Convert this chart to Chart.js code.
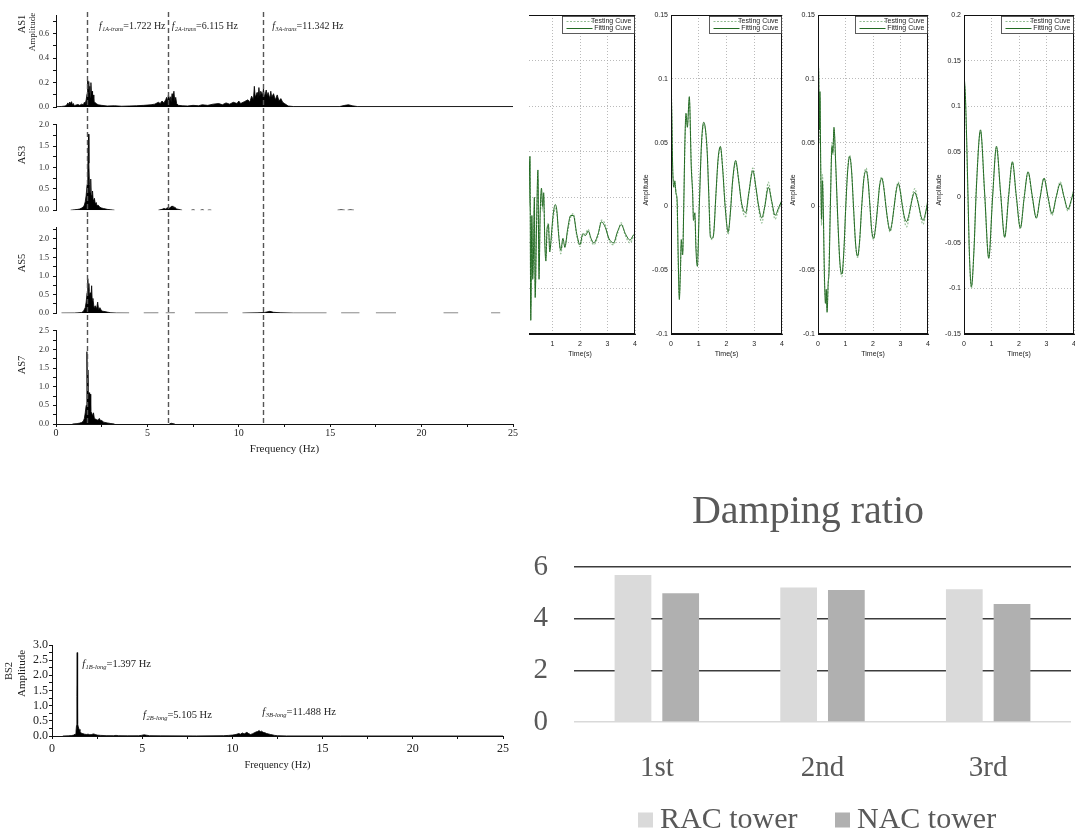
<!DOCTYPE html>
<html lang="en">
<head>
<meta charset="utf-8">
<title>Tower modal identification</title>
<script src="https://cdn.jsdelivr.net/npm/chart.js@4.4.1/dist/chart.umd.min.js"></script>
<style>
  html, body { margin: 0; padding: 0; background: #fff; }
  body { position: relative; width: 1075px; height: 833px; overflow: hidden; }
  .pane { position: absolute; overflow: hidden; }
  canvas { position: absolute; display: block; }
</style>
</head>
<body>
<!-- acceleration spectra, A-tower -->
<canvas id="as1" width="525" height="116" style="left:0;top:0"></canvas>
<canvas id="as3" width="525" height="103" style="left:0;top:116px"></canvas>
<canvas id="as5" width="525" height="103" style="left:0;top:219px"></canvas>
<canvas id="as7" width="525" height="138" style="left:0;top:322px"></canvas>
<!-- free-decay responses -->
<div class="pane" style="left:529px;top:0;width:111px;height:362px">
  <canvas id="r1" width="156" height="362" style="left:-40px;top:0"></canvas>
</div>
<canvas id="r2" width="152" height="362" style="left:638px;top:0"></canvas>
<canvas id="r3" width="151" height="362" style="left:785px;top:0"></canvas>
<canvas id="r4" width="151" height="362" style="left:931px;top:0"></canvas>
<!-- B-tower spectrum -->
<canvas id="bs2" width="520" height="150" style="left:0;top:630px"></canvas>
<!-- damping ratios -->
<canvas id="damp" width="555" height="343" style="left:520px;top:490px"></canvas>

<script>
// ---------------- data ----------------
// spectra: [frequency (Hz), amplitude]; null breaks the trace
const as1Spectrum = [
  [0,0.003],[0.3,0.006],[0.5,0.01],[0.6,0.02],[0.65,0.035],[0.7,0.02],[0.75,0.042],[0.8,0.03],[0.85,0.045],[0.9,0.02],
  [0.95,0.03],[1.0,0.012],[1.1,0.018],[1.2,0.022],[1.3,0.015],[1.4,0.025],[1.5,0.02],[1.55,0.04],[1.6,0.03],[1.65,0.06],
  [1.7,0.11],[1.73,0.22],[1.76,0.14],[1.79,0.21],[1.82,0.12],[1.85,0.17],[1.88,0.08],[1.91,0.2],[1.94,0.1],[1.97,0.13],
  [2.0,0.07],[2.03,0.1],[2.07,0.05],[2.12,0.04],[2.2,0.03],[2.3,0.02],[2.5,0.015],[2.8,0.01],[3.2,0.012],[3.6,0.008],
  [4.0,0.01],[4.4,0.012],[4.8,0.015],[5.2,0.02],[5.4,0.025],[5.6,0.04],[5.7,0.03],[5.8,0.05],[5.9,0.035],[6.0,0.06],
  [6.05,0.08],[6.1,0.05],[6.15,0.1],[6.2,0.06],[6.25,0.085],[6.3,0.045],[6.35,0.11],[6.4,0.07],[6.45,0.13],[6.5,0.05],
  [6.55,0.08],[6.6,0.03],[6.7,0.015],[6.9,0.012],[7.2,0.01],[7.5,0.015],[7.8,0.012],[8.0,0.02],[8.3,0.015],[8.6,0.025],
  [8.9,0.03],[9.1,0.02],[9.3,0.035],[9.5,0.025],[9.7,0.04],[9.9,0.03],[10.0,0.05],[10.1,0.03],[10.3,0.045],[10.5,0.06],
  [10.6,0.04],[10.7,0.09],[10.8,0.06],[10.85,0.17],[10.9,0.08],[11.0,0.12],[11.05,0.07],[11.1,0.16],[11.15,0.09],[11.2,0.13],
  [11.3,0.1],[11.35,0.15],[11.4,0.08],[11.5,0.14],[11.55,0.09],[11.6,0.12],[11.7,0.07],[11.75,0.13],[11.8,0.08],[11.9,0.11],
  [12.0,0.06],[12.1,0.1],[12.2,0.05],[12.3,0.07],[12.4,0.04],[12.5,0.03],[12.7,0.01],[13.0,0.005],[15.5,0.005],[15.8,0.015],
  [16.0,0.02],[16.2,0.012],[16.5,0.005],[25,0.005]
];
const as3Spectrum = [
  [0.8,0],[1.0,0.01],[1.2,0.02],[1.3,0.03],[1.4,0.05],[1.5,0.08],[1.55,0.12],[1.6,0.2],[1.65,0.35],[1.7,0.6],
  [1.74,1.0],[1.78,1.78],[1.8,1.1],[1.83,0.6],[1.86,0.4],[1.9,0.73],[1.93,0.35],[1.96,0.3],[2.0,0.45],[2.03,0.25],
  [2.07,0.2],[2.1,0.28],[2.15,0.15],[2.2,0.18],[2.25,0.1],[2.3,0.12],[2.4,0.07],[2.5,0.05],[2.6,0.04],[2.8,0.02],
  [3.0,0.01],[3.2,0],[3.25,null],[5.6,0],[5.8,0.02],[5.9,0.04],[6.0,0.03],[6.1,0.06],[6.2,0.05],[6.3,0.08],
  [6.35,0.1],[6.4,0.06],[6.5,0.07],[6.6,0.03],[6.8,0.01],[6.9,0],[7.0,null],[7.4,0],[7.5,0.008],[7.6,0],
  [7.65,null],[7.9,0],[8.0,0.01],[8.1,0],[8.15,null],[8.3,0],[8.4,0.006],[8.5,0],[8.55,null],[15.4,0],
  [15.6,0.01],[15.8,0],[15.85,null],[15.95,0],[16.1,0.008],[16.3,0]
];
const as5Spectrum = [
  [0.3,0.003],[1.0,0.005],[1.2,0.01],[1.4,0.02],[1.5,0.05],[1.6,0.15],[1.65,0.3],[1.7,0.55],[1.74,0.93],[1.77,0.6],
  [1.8,0.8],[1.83,0.45],[1.87,0.55],[1.9,0.3],[1.95,0.74],[1.98,0.35],[2.02,0.4],[2.08,0.15],[2.15,0.2],[2.22,0.12],
  [2.28,0.3],[2.33,0.1],[2.4,0.15],[2.5,0.06],[2.6,0.05],[2.8,0.03],[3.0,0.012],[3.3,0.005],[4.0,0.003],[4.05,null],
  [4.8,0.003],[5.6,0.004],[5.65,null],[6.0,0.003],[6.5,0.006],[6.55,null],[7.6,0.003],[9.4,0.004],[9.45,null],[10.2,0.003],
  [11.0,0.01],[11.4,0.02],[11.7,0.05],[11.9,0.025],[12.3,0.01],[13.0,0.003],[14.8,0.003],[14.85,null],[15.6,0.003],[16.6,0.003],
  [16.65,null],[17.5,0.003],[18.6,0.003],[18.65,null],[21.2,0.003],[22.0,0.003],[22.05,null],[23.8,0.003],[24.3,0.003]
];
const as7Spectrum = [
  [0.9,0],[1.1,0.01],[1.2,0.015],[1.3,0.025],[1.4,0.04],[1.5,0.08],[1.55,0.15],[1.6,0.3],[1.65,0.5],[1.69,1.94],
  [1.72,1.0],[1.75,1.45],[1.78,0.6],[1.81,0.84],[1.84,0.45],[1.87,0.8],[1.9,0.35],[1.95,0.3],[2.0,0.22],[2.05,0.3],
  [2.1,0.15],[2.2,0.12],[2.3,0.1],[2.37,0.15],[2.45,0.08],[2.5,0.1],[2.6,0.05],[2.8,0.03],[3.0,0.012],[3.2,0],
  [3.25,null],[6.2,0],[6.3,0.02],[6.4,0.01],[6.5,0]
];
const bs2Spectrum = [
  [0.6,0],[0.9,0.005],[1.1,0.015],[1.2,0.03],[1.28,0.06],[1.33,0.15],[1.36,0.35],[1.38,1.3],[1.397,2.75],[1.41,1.1],
  [1.43,0.4],[1.46,0.3],[1.5,0.22],[1.55,0.15],[1.6,0.1],[1.7,0.08],[1.8,0.06],[1.9,0.05],[2.0,0.06],[2.1,0.04],
  [2.2,0.05],[2.3,0.07],[2.4,0.05],[2.5,0.03],[2.7,0.02],[3.0,0.012],[3.4,0.01],[3.55,0.02],[3.7,0.01],[4.2,0.006],
  [4.8,0.008],[4.95,0.02],[5.105,0.04],[5.25,0.025],[5.4,0.01],[6.0,0.005],[8.0,0.004],[9.5,0.01],[9.8,0.02],[10.0,0.03],
  [10.2,0.05],[10.35,0.08],[10.45,0.06],[10.55,0.1],[10.65,0.07],[10.8,0.12],[10.9,0.08],[11.0,0.05],[11.1,0.07],[11.2,0.1],
  [11.3,0.13],[11.4,0.15],[11.488,0.18],[11.55,0.14],[11.62,0.16],[11.7,0.12],[11.8,0.11],[11.9,0.08],[12.0,0.07],[12.1,0.05],
  [12.2,0.04],[12.35,0.02],[12.5,0.01],[13.0,0.003],[16,0.002],[25,0]
];

// identified modal frequencies
const modeFreqA = [1.722, 6.115, 11.342];
const modeSubA  = ['1A-trans', '2A-trans', '3A-trans'];
const modeFreqB = [1.397, 5.105, 11.488];
const modeSubB  = ['1B-long', '2B-long', '3B-long'];

// free-decay records: [time (s), fitting curve, testing curve]
const decay1 = [
  [0,0.0,0.005],[0.08,0.03,0.025],[0.13,-0.01,-0.015],[0.18,0.045,0.04],[0.21,-0.135,-0.12],[0.25,-0.02,-0.03],
  [0.28,-0.09,-0.085],[0.31,-0.06,-0.065],[0.34,0.0,-0.01],[0.37,-0.11,-0.1],[0.42,-0.03,-0.035],[0.47,0.03,0.02],
  [0.51,-0.09,-0.08],[0.55,-0.02,-0.025],[0.6,0.01,0.005],[0.64,-0.01,-0.015],[0.68,0.005,0.0],[0.72,-0.05,-0.045],
  [0.76,-0.07,-0.065],[0.8,-0.035,-0.04],[0.85,-0.03,-0.028],[0.9,-0.06,-0.055],[0.95,-0.045,-0.05],[1.02,-0.02,-0.025],
  [1.1,-0.008,-0.012],[1.16,-0.015,-0.018],[1.22,-0.04,-0.038],[1.3,-0.058,-0.062],[1.38,-0.045,-0.05],[1.45,-0.055,-0.052],
  [1.55,-0.035,-0.038],[1.66,-0.02,-0.022],[1.76,-0.02,-0.018],[1.88,-0.04,-0.042],[2.0,-0.052,-0.054],[2.1,-0.04,-0.042],
  [2.2,-0.042,-0.04],[2.3,-0.037,-0.035],[2.4,-0.045,-0.047],[2.5,-0.05,-0.052],[2.66,-0.04,-0.042],[2.78,-0.027,-0.025],
  [2.92,-0.033,-0.03],[3.05,-0.045,-0.047],[3.22,-0.05,-0.052],[3.36,-0.038,-0.04],[3.5,-0.03,-0.028],[3.65,-0.04,-0.042],
  [3.82,-0.047,-0.05],[3.93,-0.042,-0.044],[4.0,-0.04,-0.038]
];
const decay2 = [
  [0,0.1,0.098],[0.03,0.07,0.075],[0.06,0.031,0.028],[0.1,0.015,0.02],[0.14,0.02,0.016],[0.18,0.01,0.012],
  [0.22,0.005,0.0],[0.26,-0.04,-0.045],[0.3,-0.073,-0.07],[0.34,-0.05,-0.052],[0.37,-0.026,-0.03],[0.42,-0.038,-0.035],
  [0.46,0.0,0.003],[0.5,0.05,0.045],[0.54,0.073,0.07],[0.59,0.062,0.064],[0.66,0.086,0.083],[0.73,0.031,0.035],
  [0.78,0.01,0.012],[0.81,-0.011,-0.008],[0.86,-0.005,-0.009],[0.9,-0.034,-0.03],[0.95,-0.047,-0.04],[1.02,0.0,0.004],
  [1.1,0.05,0.048],[1.18,0.066,0.064],[1.3,0.044,0.046],[1.36,0.01,0.012],[1.42,-0.024,-0.022],[1.48,-0.025,-0.026],
  [1.54,-0.021,-0.02],[1.62,0.01,0.009],[1.7,0.038,0.036],[1.78,0.047,0.046],[1.86,0.03,0.031],[1.95,0.0,0.002],
  [2.06,-0.02,-0.022],[2.14,-0.005,-0.004],[2.22,0.02,0.019],[2.33,0.036,0.034],[2.44,0.02,0.021],[2.55,0.002,0.0],
  [2.69,-0.005,-0.008],[2.8,0.01,0.009],[2.95,0.028,0.03],[3.06,0.015,0.014],[3.16,0.0,-0.002],[3.27,-0.009,-0.013],
  [3.38,0.0,0.0],[3.51,0.015,0.019],[3.63,0.004,0.003],[3.75,-0.007,-0.01],[3.88,-0.001,-0.002],[4.0,0.005,0.004]
];
const decay3 = [
  [0,0.1,0.095],[0.02,0.108,0.11],[0.05,0.06,0.05],[0.07,0.09,0.085],[0.1,0.03,0.025],[0.13,-0.01,-0.015],
  [0.16,0.02,0.025],[0.19,0.0,0.005],[0.23,-0.05,-0.055],[0.27,-0.076,-0.07],[0.3,-0.065,-0.07],[0.33,-0.083,-0.08],
  [0.37,-0.06,-0.062],[0.4,-0.052,-0.045],[0.45,0.0,0.005],[0.51,0.047,0.05],[0.54,0.042,0.04],[0.58,0.062,0.06],
  [0.65,0.03,0.028],[0.72,-0.01,-0.012],[0.8,-0.045,-0.046],[0.87,-0.053,-0.055],[0.94,-0.035,-0.036],[1.01,0.0,0.0],
  [1.08,0.028,0.03],[1.15,0.039,0.04],[1.22,0.028,0.029],[1.29,0.0,0.0],[1.37,-0.03,-0.031],[1.44,-0.039,-0.04],
  [1.51,-0.028,-0.029],[1.59,0.0,0.0],[1.67,0.022,0.023],[1.75,0.028,0.03],[1.82,0.02,0.021],[1.89,0.0,0.0],
  [1.95,-0.018,-0.019],[2.02,-0.025,-0.026],[2.09,-0.017,-0.018],[2.17,0.0,0.0],[2.24,0.016,0.017],[2.32,0.022,0.023],
  [2.39,0.015,0.016],[2.47,0.0,0.0],[2.55,-0.013,-0.014],[2.62,-0.019,-0.02],[2.69,-0.013,-0.014],[2.77,0.0,0.0],
  [2.85,0.013,0.014],[2.92,0.018,0.019],[2.99,0.012,0.013],[3.07,0.0,0.0],[3.15,-0.009,-0.012],[3.22,-0.012,-0.016],
  [3.29,-0.008,-0.011],[3.37,0.0,0.0],[3.45,0.008,0.01],[3.52,0.011,0.014],[3.59,0.007,0.009],[3.67,0.0,0.0],
  [3.75,-0.008,-0.01],[3.82,-0.011,-0.014],[3.9,-0.006,-0.008],[4.0,0.005,0.006]
];
const decay4 = [
  [0,0.135,0.13],[0.05,0.112,0.108],[0.1,0.06,0.055],[0.15,-0.005,-0.01],[0.2,-0.065,-0.068],[0.27,-0.098,-0.1],
  [0.36,-0.06,-0.058],[0.45,0.01,0.013],[0.6,0.074,0.072],[0.75,0.005,0.003],[0.9,-0.067,-0.066],[1.04,0.0,0.002],
  [1.18,0.056,0.054],[1.33,0.005,0.004],[1.48,-0.044,-0.043],[1.62,0.0,0.002],[1.76,0.039,0.038],[1.9,0.002,0.0],
  [2.05,-0.034,-0.033],[2.19,0.0,0.001],[2.33,0.028,0.027],[2.48,0.002,0.0],[2.63,-0.023,-0.022],[2.77,0.0,0.001],
  [2.91,0.021,0.021],[3.05,0.001,0.0],[3.2,-0.018,-0.02],[3.35,0.0,0.0],[3.5,0.015,0.017],[3.64,0.0,0.0],
  [3.78,-0.013,-0.015],[3.9,-0.003,-0.004],[4.0,0.008,0.01]
];
const curveNames = ['Testing Cuve', 'Fitting Cuve'];

// damping ratio (%)
const dampModes = ['1st', '2nd', '3rd'];
const racDamping = [5.69, 5.21, 5.14];
const nacDamping = [4.98, 5.11, 4.57];
const towerNames = ['RAC tower', 'NAC tower'];

// ---------------- helpers ----------------
const SERIF = '"Liberation Serif", "Times New Roman", serif';
const SANS = '"Liberation Sans", Arial, sans-serif';
const onStep = (v, step) => Math.abs(v / step - Math.round(v / step)) < 1e-6;

// free text placed in canvas coordinates (titles, axis captions)
const textPlugin = {
  id: 'texts',
  afterDraw(chart, args, o) {
    const ctx = chart.ctx;
    (o.items || []).forEach(it => {
      ctx.save();
      ctx.font = it.font;
      ctx.fillStyle = it.color || '#222';
      ctx.textAlign = it.align || 'center';
      ctx.textBaseline = 'middle';
      ctx.translate(it.x, it.y);
      if (it.rot) ctx.rotate(it.rot);
      ctx.fillText(it.text, 0, 0);
      ctx.restore();
    });
  }
};

// dashed verticals at the identified frequencies
const guidePlugin = {
  id: 'guides',
  afterDraw(chart, args, o) {
    if (!o.freqs || !o.freqs.length) return;
    const ctx = chart.ctx, xs = chart.scales.x;
    ctx.save();
    ctx.strokeStyle = '#555';
    ctx.lineWidth = 1.4;
    ctx.setLineDash([5, 3]);
    o.freqs.forEach(f => {
      const x = Math.round(xs.getPixelForValue(f)) + 0.5;
      ctx.beginPath();
      ctx.moveTo(x, o.top);
      ctx.lineTo(x, o.bottom);
      ctx.stroke();
    });
    ctx.restore();
  }
};

// "f_sub = value Hz" annotations anchored on the frequency axis
const modeLabelPlugin = {
  id: 'modeLabels',
  afterDraw(chart, args, o) {
    if (!o.items || !o.items.length) return;
    const ctx = chart.ctx, xs = chart.scales.x;
    ctx.save();
    ctx.fillStyle = '#222';
    ctx.textAlign = 'left';
    ctx.textBaseline = 'alphabetic';
    o.items.forEach(it => {
      let x = xs.getPixelForValue(it.f) + it.dx;
      ctx.font = `italic ${o.size}px ${SERIF}`;
      ctx.fillText('f', x, it.y);
      x += ctx.measureText('f').width + 0.5;
      ctx.font = `italic ${o.subSize}px ${SERIF}`;
      ctx.fillText(it.sub, x, it.y + o.subDrop);
      x += ctx.measureText(it.sub).width;
      ctx.font = `${o.size}px ${SERIF}`;
      ctx.fillText('=' + it.f.toFixed(3) + ' Hz', x, it.y);
    });
    ctx.restore();
  }
};

// axes box and inset legend of the decay plots
const framePlugin = {
  id: 'frameLegend',
  afterDraw(chart, args, o) {
    const ctx = chart.ctx, a = chart.chartArea;
    ctx.save();
    ctx.setLineDash([]);
    ctx.strokeStyle = '#111';
    ctx.lineWidth = 1;
    ctx.strokeRect(Math.round(a.left) + 0.5, Math.round(a.top) + 0.5,
                   Math.round(a.right - a.left) - 1, Math.round(a.bottom - a.top) - 1);
    const w = o.width, h = o.height;
    const bx = Math.round(a.right) - w - 0.5, by = Math.round(a.top) + 1.5;
    ctx.fillStyle = '#fff';
    ctx.fillRect(bx, by, w, h);
    ctx.strokeStyle = '#333';
    ctx.lineWidth = 0.8;
    ctx.strokeRect(bx, by, w, h);
    ctx.font = `7px ${SANS}`;
    ctx.textBaseline = 'middle';
    ctx.textAlign = 'right';
    chart.data.datasets.forEach((ds, i) => {
      const y = by + 5 + i * 7;
      ctx.strokeStyle = ds.borderColor;
      ctx.lineWidth = ds.borderWidth;
      ctx.setLineDash(ds.borderDash || []);
      ctx.beginPath();
      ctx.moveTo(bx + 4, y);
      ctx.lineTo(bx + 30, y);
      ctx.stroke();
      ctx.setLineDash([]);
      ctx.fillStyle = '#222';
      ctx.fillText(ds.label, bx + w - 3, y);
    });
    ctx.restore();
  }
};

// square-marker legend of the damping chart
const boxLegendPlugin = {
  id: 'boxLegend',
  afterDraw(chart, args, o) {
    const ctx = chart.ctx;
    ctx.save();
    ctx.font = o.font;
    ctx.textAlign = 'left';
    ctx.textBaseline = 'middle';
    chart.data.datasets.forEach((ds, i) => {
      const x = o.xs[i];
      ctx.fillStyle = ds.backgroundColor;
      ctx.fillRect(x, o.y - o.box / 2, o.box, o.box);
      ctx.fillStyle = o.color;
      ctx.fillText(ds.label, x + o.box + o.gap, o.y);
    });
    ctx.restore();
  }
};

function spectrumChart(id, spectrum, o) {
  const x = o.showX ? {
    type: 'linear', min: 0, max: 25,
    afterFit: s => { s.height = o.xH; },
    grid: { display: true, drawOnChartArea: false, drawTicks: true, tickLength: 3, tickColor: '#111', tickWidth: 1 },
    border: { display: true, color: '#111', width: 1 },
    ticks: { stepSize: 2.5, autoSkip: false, includeBounds: false, padding: o.xPad, maxRotation: 0,
             color: '#222', font: { family: SERIF, size: o.xFont },
             callback: v => onStep(v, 5) ? String(v) : '' },
    title: { display: true, text: 'Frequency (Hz)', color: '#222',
             font: { family: SERIF, size: o.xTitleSize }, padding: { top: 0, bottom: o.xTitlePad } }
  } : { type: 'linear', min: 0, max: 25, display: false };

  return new Chart(document.getElementById(id), {
    type: 'line',
    data: {
      datasets: [{
        data: spectrum.map(p => ({ x: p[0], y: p[1] })),
        borderColor: '#000', backgroundColor: '#000', borderWidth: 0.8,
        pointRadius: 0, fill: 'origin', tension: 0, spanGaps: false
      }]
    },
    options: {
      responsive: false, animation: false, events: [],
      layout: { autoPadding: false, padding: o.pad },
      plugins: {
        legend: { display: false }, tooltip: { enabled: false },
        guides: o.guides || {},
        texts: { items: o.texts || [] },
        modeLabels: o.modeLabels || {}
      },
      scales: {
        x,
        y: {
          min: 0, max: o.yMax,
          afterFit: s => { s.width = o.yW; },
          grid: { display: true, drawOnChartArea: false, drawTicks: true, tickLength: 3, tickColor: '#111', tickWidth: 1 },
          border: { display: true, color: '#111', width: 1 },
          ticks: { stepSize: o.minor, autoSkip: false, includeBounds: false, padding: o.yPad,
                   color: '#222', font: { family: SERIF, size: o.yFont },
                   callback: v => onStep(v, o.major) ? v.toFixed(1) : '' }
        }
      }
    },
    plugins: [guidePlugin, textPlugin, modeLabelPlugin]
  });
}

function decayChart(id, rows, o) {
  const gridStyle = { color: '#a8a8a8', lineWidth: 0.8, drawTicks: false };
  const borderStyle = { display: true, color: '#111', width: 1, dash: [1, 2] };
  const tickFont = { family: SANS, size: 7 };
  return new Chart(document.getElementById(id), {
    type: 'line',
    data: {
      datasets: [
        { label: curveNames[0], data: rows.map(r => ({ x: r[0], y: r[2] })),
          borderColor: '#93bd93', borderDash: [2, 1.5], borderWidth: 1.2, pointRadius: 0,
          cubicInterpolationMode: 'monotone', fill: false, order: 1 },
        { label: curveNames[1], data: rows.map(r => ({ x: r[0], y: r[1] })),
          borderColor: '#226a22', borderWidth: 1, pointRadius: 0,
          cubicInterpolationMode: 'monotone', fill: false, order: 0 }
      ]
    },
    options: {
      responsive: false, animation: false, events: [],
      layout: { autoPadding: false, padding: { left: 0, right: o.padR, top: 15, bottom: 0 } },
      plugins: {
        legend: { display: false }, tooltip: { enabled: false },
        frameLegend: { width: 72, height: 17 },
        texts: { items: [{ text: 'Amplitude', x: 8, y: 190, rot: -Math.PI / 2, font: `7px ${SANS}` }] }
      },
      scales: {
        x: {
          type: 'linear', min: 0, max: 4,
          afterFit: s => { s.height = 28; },
          grid: gridStyle, border: borderStyle,
          ticks: { stepSize: 1, padding: 5.8, color: '#222', font: tickFont, maxRotation: 0, autoSkip: false },
          title: { display: true, text: 'Time(s)', color: '#222', font: tickFont, padding: { top: 0, bottom: 3.8 } }
        },
        y: {
          min: o.yMin, max: o.yMax,
          afterFit: s => { s.width = o.yW; },
          grid: gridStyle, border: borderStyle,
          ticks: { stepSize: 0.05, padding: 3, color: '#222', font: tickFont, autoSkip: false,
                   callback: v => String(+v.toFixed(2)) }
        }
      }
    },
    plugins: [framePlugin, textPlugin]
  });
}

// ---------------- A-tower spectra ----------------
const rot = -Math.PI / 2;
const labelOffsetA = [11.5, 4, 9];
spectrumChart('as1', as1Spectrum, {
  yMax: 0.75, minor: 0.1, major: 0.2, yW: 56, yFont: 8, yPad: 4,
  pad: { left: 0, right: 12, top: 15, bottom: 4 }, showX: false,
  guides: { freqs: modeFreqA, top: 12, bottom: 116 },
  texts: [
    { text: 'AS1', x: 22, y: 24, rot, font: `10.5px ${SERIF}` },
    { text: 'Amplitude', x: 33, y: 32, rot, font: `9px ${SERIF}` }
  ],
  modeLabels: {
    size: 10, subSize: 6, subDrop: 2.5,
    items: modeFreqA.map((f, i) => ({ f, sub: modeSubA[i], dx: labelOffsetA[i], y: 28.5 }))
  }
});
spectrumChart('as3', as3Spectrum, {
  yMax: 2.0, minor: 0.25, major: 0.5, yW: 56, yFont: 8, yPad: 4,
  pad: { left: 0, right: 12, top: 4, bottom: 2 }, showX: false,
  guides: { freqs: modeFreqA, top: 0, bottom: 103 },
  texts: [{ text: 'AS3', x: 22, y: 39, rot, font: `10.5px ${SERIF}` }]
});
spectrumChart('as5', as5Spectrum, {
  yMax: 2.3, minor: 0.25, major: 0.5, yW: 56, yFont: 8, yPad: 4,
  pad: { left: 0, right: 12, top: 2, bottom: 2 }, showX: false,
  guides: { freqs: modeFreqA, top: 0, bottom: 103 },
  texts: [{ text: 'AS5', x: 22, y: 44, rot, font: `10.5px ${SERIF}` }]
});
spectrumChart('as7', as7Spectrum, {
  yMax: 2.5, minor: 0.25, major: 0.5, yW: 56, yFont: 8, yPad: 4,
  pad: { left: 0, right: 12, top: 4, bottom: 0 }, showX: true,
  xH: 36, xPad: 0, xFont: 10, xTitleSize: 11, xTitlePad: 4.4,
  guides: { freqs: modeFreqA, top: 0, bottom: 102 },
  texts: [{ text: 'AS7', x: 22, y: 43, rot, font: `10.5px ${SERIF}` }]
});

// ---------------- B-tower spectrum ----------------
const labelOffsetB = [5, -1, 3];
const labelBaseB = [36.5, 87.5, 84.5];
spectrumChart('bs2', bs2Spectrum, {
  yMax: 3.0, minor: 0.25, major: 0.5, yW: 52, yFont: 12, yPad: 1,
  pad: { left: 0, right: 17, top: 15, bottom: 0 }, showX: true,
  xH: 44, xPad: 2.8, xFont: 12, xTitleSize: 10.5, xTitlePad: 8.7,
  texts: [
    { text: 'BS2', x: 9, y: 41, rot, font: `10.5px ${SERIF}` },
    { text: 'Amplitude', x: 22, y: 43.5, rot, font: `11px ${SERIF}` }
  ],
  modeLabels: {
    size: 10.5, subSize: 6.5, subDrop: 2.5,
    items: modeFreqB.map((f, i) => ({ f, sub: modeSubB[i], dx: labelOffsetB[i], y: labelBaseB[i] }))
  }
});

// ---------------- free-decay responses ----------------
decayChart('r1', decay1, { yMin: -0.15, yMax: 0.2, yW: 36, padR: 10 });
decayChart('r2', decay2, { yMin: -0.1, yMax: 0.15, yW: 33, padR: 8 });
decayChart('r3', decay3, { yMin: -0.1, yMax: 0.15, yW: 33, padR: 8 });
decayChart('r4', decay4, { yMin: -0.15, yMax: 0.2, yW: 33, padR: 8 });

// ---------------- damping ratio ----------------
new Chart(document.getElementById('damp'), {
  type: 'bar',
  data: {
    labels: dampModes,
    datasets: [
      { label: towerNames[0], data: racDamping, backgroundColor: '#dadada',
        barPercentage: 0.77, categoryPercentage: 0.576 },
      { label: towerNames[1], data: nacDamping, backgroundColor: '#b0b0b0',
        barPercentage: 0.77, categoryPercentage: 0.576 }
    ]
  },
  options: {
    responsive: false, animation: false, events: [],
    layout: { autoPadding: false, padding: { left: 0, right: 4, top: 77, bottom: 0 } },
    plugins: {
      legend: { display: false }, tooltip: { enabled: false },
      texts: { items: [{ text: 'Damping ratio', x: 288, y: 22, font: `40px ${SERIF}`, color: '#595959' }] },
      boxLegend: { xs: [118, 315], y: 330, box: 15, gap: 7, font: `30px ${SERIF}`, color: '#595959' }
    },
    scales: {
      x: {
        afterFit: s => { s.height = 111; },
        grid: { display: false }, border: { display: false },
        ticks: { padding: 20.6, color: '#595959', font: { family: SERIF, size: 29 } }
      },
      y: {
        min: 0, max: 6,
        afterFit: s => { s.width = 54; },
        border: { display: false },
        grid: { drawTicks: false, lineWidth: 1.5,
                color: c => (c.tick && c.tick.value === 0) ? '#d9d9d9' : '#3c3c3c' },
        ticks: { stepSize: 2, padding: 26, color: '#595959', font: { family: SERIF, size: 29 } }
      }
    }
  },
  plugins: [textPlugin, boxLegendPlugin]
});
</script>
</body>
</html>
